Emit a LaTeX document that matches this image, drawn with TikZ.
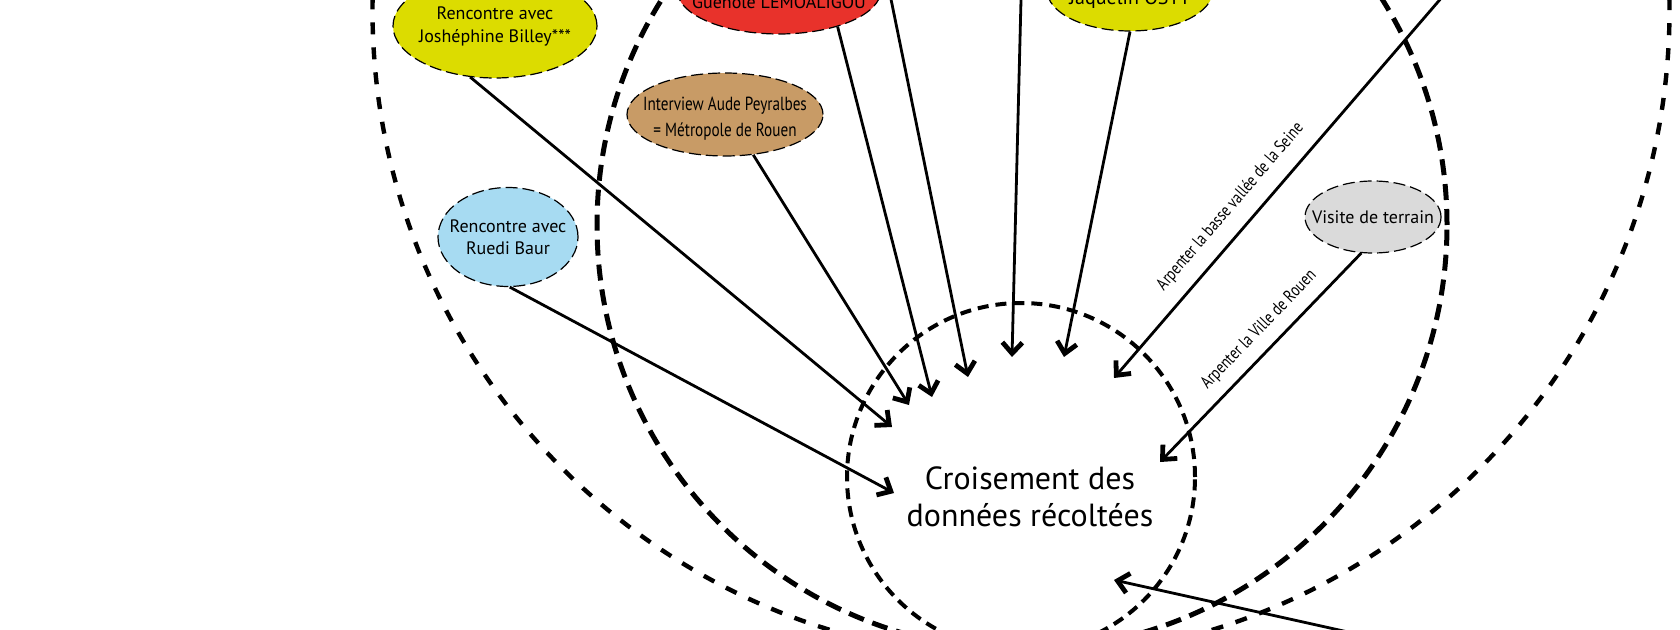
\documentclass[tikz,border=0pt]{standalone}
\usepackage{fontspec}
\setmainfont{PT Sans}
\newfontfamily\condensed[FakeStretch=0.8]{PT Sans}
\usepackage{xcolor}
\usetikzlibrary{positioning,shapes.geometric,arrows.meta}

\definecolor{jaune}{HTML}{DCDC00}
\definecolor{bleu}{HTML}{A7DBF2}
\definecolor{brun}{HTML}{C89B66}
\definecolor{rouge}{HTML}{E8322B}
\definecolor{gris}{HTML}{DADADA}

\begin{document}
\begin{tikzpicture}[x=0.5pt, y=-0.5pt,
    bulle/.style={ellipse, draw, line width=0.6pt, dash pattern=on 6pt off 2.5pt, inner sep=0pt},
    txt/.style={font=\fontsize{9}{11.5}\selectfont, align=center},
    lab/.style={font=\condensed\fontsize{8.8}{10}\selectfont, inner sep=0pt},
    fleche/.style={line width=1.4pt, -{Straight Barb[length=5.5pt,width=10pt,line width=2.4pt]}}]
  \useasboundingbox (0,0) rectangle (1680,630);
  \clip (0,0) rectangle (1680,630);
  % cercles
  \node[circle, draw, line width=2.2pt, dash pattern=on 6pt off 6.5pt, minimum size=648.5pt] (O) at (1021,10) {};
  \node[circle, draw, line width=2.5pt, dash pattern=on 8pt off 4.5pt, minimum size=425pt] (M) at (1022,225) {};
  \node[circle, draw, line width=2pt, dash pattern=on 5.5pt off 3.5pt, minimum size=174pt] (C) at (1021,477) {};
  \node[font=\fontsize{16}{18.5}\selectfont, align=center] (X) at (1030,497) {Croisement des\\données récoltées};
  % sources
  \node[bulle, fill=jaune, minimum width=102pt, minimum height=52pt, label={[txt]center:{Rencontre avec\\Joshéphine Billey***}}] (J) at (495,26) {};
  \node[bulle, fill=bleu, minimum width=70pt, minimum height=49.5pt, label={[txt, font=\fontsize{9}{11}\selectfont]center:{Rencontre avec\\Ruedi Baur}}] (R) at (508,237) {};
  \node[bulle, fill=brun, minimum width=98pt, minimum height=41.5pt, label={[txt, font=\condensed\fontsize{9.5}{13}\selectfont, yshift=-2.2pt]center:{Interview Aude Peyralbes\\= Métropole de Rouen}}] (I) at (725,114.5) {};
  \node[bulle, fill=rouge, minimum width=102pt, minimum height=44pt, label={[txt, yshift=-6pt]center:Guénolé LEMOALIGOU}] (G) at (779,-10) {};
  \node[bulle, fill=jaune, minimum width=83pt, minimum height=41pt, label={[txt, font=\fontsize{10}{12}\selectfont, yshift=-4.5pt]center:Jaquelin OSTY}] (Q) at (1130,-10) {};
  \node[bulle, fill=gris, minimum width=68pt, minimum height=36pt, label={[txt]center:Visite de terrain}] (V) at (1373,217) {};
  % bouts des fleches
  \coordinate (t1) at (892,427);
  \coordinate (t2) at (894,493);
  \coordinate (t3) at (909,405);
  \coordinate (t4) at (932,397);
  \coordinate (t5) at (968,377);
  \coordinate (t6) at (1012,357);
  \coordinate (t7) at (1064,357);
  \coordinate (t8) at (1114,378);
  \coordinate (t9) at (1160,462);
  \coordinate (t10) at (1114,580);
  \coordinate (s5) at (883,-40);
  \coordinate (s6) at (1022,-40);
  \coordinate (s8) at (1474,-40);
  \coordinate (s10) at (1420,648);
  % fleches
  \draw[fleche] (J.-116) -- (t1);
  \draw[fleche] (R.-88) -- (t2);
  \draw[fleche] (I.-55) -- (t3);
  \draw[fleche] (G.-32) -- (t4);
  \draw[fleche] (s5) -- (t5);
  \draw[fleche] (s6) -- (t6);
  \draw[fleche] (Q.-90) -- (t7);
  \draw[fleche] (s8) -- node[lab, sloped, above=7pt, pos=0.627] (a1) {Arpenter la basse vallée de la Seine} (t8);
  \draw[fleche] (V.-108) -- node[lab, sloped, above=5.5pt, pos=0.435] (a2) {Arpenter la Ville de Rouen} (t9);
  \draw[fleche] (s10) -- (t10);
\end{tikzpicture}
\end{document}
